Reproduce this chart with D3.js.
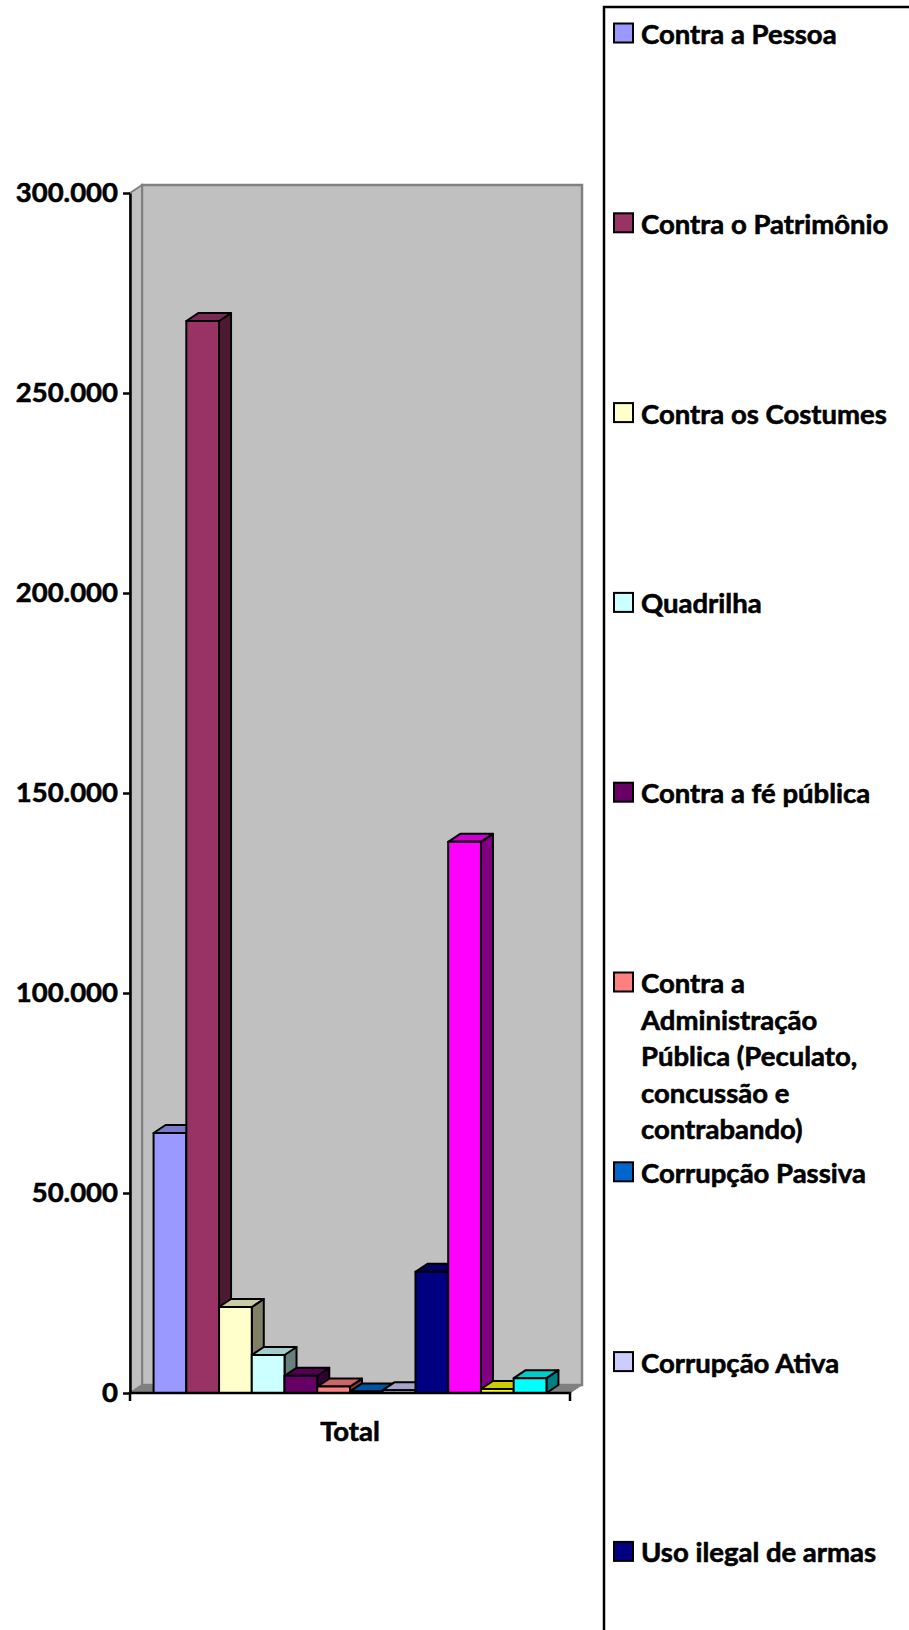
<!DOCTYPE html>
<html>
<head>
<meta charset="utf-8">
<script src="https://cdn.jsdelivr.net/npm/d3@7"></script>
<style>
  body { margin: 0; background: #fff; }
  svg { display: block; }
  text { font-family: Lato, "Open Sans", sans-serif; font-weight: bold; fill: #000; stroke: #000; stroke-width: 0.6px; }
</style>
</head>
<body>
<svg id="chart"></svg>
<script>
// one category, one bar per crime type
const CATEGORIES = ['Total'];

const SERIES = [
  'Contra a Pessoa',
  'Contra o Patrimônio',
  'Contra os Costumes',
  'Quadrilha',
  'Contra a fé pública',
  'Contra a Administração Pública (Peculato, concussão e contrabando)',
  'Corrupção Passiva',
  'Corrupção Ativa',
  'Uso ilegal de armas',
  'Tráfico de entorpecentes',
  'Tráfico internacional de entorpecentes',
  'Outros',
];

const VALUES = [65000, 268000, 21500, 9500, 4300, 1600, 400, 700, 30300, 137800, 1000, 3700];

const COLORS = [
  '#9999FF', '#993366', '#FFFFCC', '#CCFFFF', '#660066', '#FF8080',
  '#0066CC', '#CCCCFF', '#000080', '#FF00FF', '#FFFF00', '#00FFFF',
];

const Y_TICKS = [0, 50000, 100000, 150000, 200000, 250000, 300000];

// — Layout ————————————————————————————————————————————————————
const WIDTH  = 909;
const HEIGHT = 1630;
const PLOT   = { left: 130, right: 570, top: 193, bottom: 1393 };
const DX = 12, DY = -8;          // 3D depth offset
const FONT = 27.5;

const svg = d3.select('#chart')
  .attr('width', WIDTH)
  .attr('height', HEIGHT);

svg.append('rect')
  .attr('width', WIDTH)
  .attr('height', HEIGHT)
  .attr('fill', '#fff');

const y = d3.scaleLinear()
  .domain([0, 300000])
  .range([PLOT.bottom, PLOT.top]);

const x0 = d3.scaleBand()
  .domain(CATEGORIES)
  .range([PLOT.left, PLOT.right])
  .paddingInner(0)
  .paddingOuter(0.06);

const x1 = d3.scaleBand()
  .domain(SERIES)
  .range([x0(CATEGORIES[0]), x0(CATEGORIES[0]) + x0.bandwidth()])
  .padding(0);

const pt = p => p.map(d => d.join(',')).join(' ');

// — Walls & floor ———————————————————————————————————————————————
svg.append('rect')
  .attr('x', PLOT.left + DX)
  .attr('y', y(300000) + DY)
  .attr('width', PLOT.right - PLOT.left)
  .attr('height', y(0) - y(300000))
  .attr('fill', '#C0C0C0')
  .attr('stroke', '#808080')
  .attr('stroke-width', 2.5);

svg.append('polygon')
  .attr('points', pt([
    [PLOT.left, y(300000)], [PLOT.left + DX, y(300000) + DY],
    [PLOT.left + DX, y(0) + DY], [PLOT.left, y(0)],
  ]))
  .attr('fill', '#C0C0C0')
  .attr('stroke', '#808080')
  .attr('stroke-width', 2);

svg.append('polygon')
  .attr('points', pt([
    [PLOT.left, y(0)], [PLOT.left + DX, y(0) + DY],
    [PLOT.right + DX, y(0) + DY], [PLOT.right, y(0)],
  ]))
  .attr('fill', '#808080')
  .attr('stroke', '#808080')
  .attr('stroke-width', 1);

// — Bars ————————————————————————————————————————————————————————
const shade = (c, k) => {
  const r = d3.rgb(c);
  return d3.rgb(r.r * k, r.g * k, r.b * k).formatHex();
};

const bars = svg.append('g')
  .selectAll('g')
  .data(SERIES.map((s, i) => ({ name: s, value: VALUES[i], color: COLORS[i] })))
  .join('g')
  .attr('stroke', '#000')
  .attr('stroke-width', 2)
  .attr('stroke-linejoin', 'round');

bars.each(function(d) {
  const g  = d3.select(this);
  const xl = x1(d.name);
  const xr = xl + x1.bandwidth();
  const yt = y(d.value);
  const yb = y(0);

  g.append('polygon')            // side
    .attr('points', pt([[xr, yt], [xr + DX, yt + DY], [xr + DX, yb + DY], [xr, yb]]))
    .attr('fill', shade(d.color, 0.5));
  g.append('polygon')            // top
    .attr('points', pt([[xl, yt], [xl + DX, yt + DY], [xr + DX, yt + DY], [xr, yt]]))
    .attr('fill', shade(d.color, 0.8));
  g.append('rect')               // front
    .attr('x', xl)
    .attr('y', yt)
    .attr('width', xr - xl)
    .attr('height', yb - yt)
    .attr('fill', d.color);
});

// — Axes ————————————————————————————————————————————————————————
const fmt = d3.formatLocale({ decimal: ',', thousands: '.', grouping: [3], currency: ['R$', ''] }).format(',');

const yAxis = svg.append('g')
  .attr('transform', `translate(${PLOT.left},0)`)
  .call(d3.axisLeft(y).tickValues(Y_TICKS).tickFormat(fmt).tickSize(7).tickSizeOuter(0).tickPadding(5));

const xAxis = svg.append('g')
  .attr('transform', `translate(0,${PLOT.bottom})`)
  .call(d3.axisBottom(x0).tickSize(0).tickSizeOuter(8).tickPadding(28));

[yAxis, xAxis].forEach(a => {
  a.select('.domain').attr('stroke', '#000').attr('stroke-width', 2.5);
  a.selectAll('.tick line').attr('stroke', '#000').attr('stroke-width', 2.5);
  a.selectAll('.tick text')
    .attr('font-family', 'Lato, "Open Sans", sans-serif')
    .attr('font-weight', 'bold')
    .attr('font-size', FONT)
    .attr('fill', '#000');
});
xAxis.select('.domain').attr('d', `M${PLOT.left},8V0H${PLOT.right}V8`);

// — Legend ——————————————————————————————————————————————————————
const LEG = { x: 604, y: 7, step: 189.8, first: 33, lineH: 36.5, maxW: 262 };

svg.append('rect')
  .attr('x', LEG.x)
  .attr('y', LEG.y)
  .attr('width', 400)
  .attr('height', 2000)
  .attr('fill', 'none')
  .attr('stroke', '#000')
  .attr('stroke-width', 2.5);

// the legend runs past the bottom of the page; only entries that fit are drawn
const legendData = SERIES
  .map((s, i) => ({ name: s, color: COLORS[i], cy: LEG.first + i * LEG.step }))
  .filter(d => d.cy + 20 < HEIGHT);

const items = svg.append('g')
  .selectAll('g')
  .data(legendData)
  .join('g')
  .attr('transform', d => `translate(${LEG.x},${d.cy})`);

items.append('rect')
  .attr('x', 10)
  .attr('y', -9.5)
  .attr('width', 19)
  .attr('height', 19)
  .attr('fill', d => d.color)
  .attr('stroke', '#000')
  .attr('stroke-width', 2);

items.each(function(d) {
  const t = d3.select(this).append('text')
    .attr('x', 37)
    .attr('font-size', FONT)
    .attr('dominant-baseline', 'central');
  // wrap long labels word by word
  const words = d.name.split(' ');
  let line = [], n = 0;
  let span = t.append('tspan').attr('x', 37).attr('y', 0);
  words.forEach(w => {
    line.push(w);
    span.text(line.join(' '));
    if (span.node().getComputedTextLength() > LEG.maxW && line.length > 1) {
      line.pop();
      span.text(line.join(' '));
      line = [w];
      n++;
      span = t.append('tspan').attr('x', 37).attr('y', n * LEG.lineH).text(w);
    }
  });
});
</script>
</body>
</html>
